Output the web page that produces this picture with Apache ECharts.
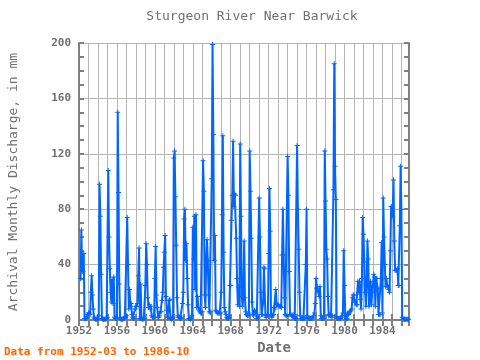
<!DOCTYPE html>
<html>
<head>
<meta charset="utf-8">
<script src="https://cdn.jsdelivr.net/npm/echarts@6/dist/echarts.min.js"></script>
<style>html,body{margin:0;padding:0;background:#fff;}#c{width:480px;height:360px;}</style>
</head>
<body>
<div id="c"></div>
<script>
// first month of record: 1952-03
var startYear = 1952;
var startMonth = 3;
// monthly discharge (mm), one line per year
var discharge = [
  30, 65, 35, 35, 48, 1, 1, 1, 2, 4,                 // 1952 (Mar-Dec)
  5, 5, 4, 20, 32, 18, 8, 2, 1, 0.5, 0.5, 0.5,       // 1953
  1, 3, 98, 75, 33, 1, 0.5, 0.5, 0.5, 0.5, 0.5, 1,   // 1954
  2, 108, 60, 37, 20, 13, 29, 12, 31, 2, 1, 1,       // 1955
  2, 150, 92, 26, 1, 0.5, 0.5, 0.5, 1, 1, 2, 2,      // 1956
  3, 74, 40, 8, 22, 10, 12, 4, 2, 1, 1, 8,           // 1957
  10, 10, 12, 32, 52, 1, 26, 1, 0.5, 0.5, 1, 1,      // 1958
  25, 55, 40, 16, 9, 11, 8, 10, 3, 2, 2, 2,          // 1959
  30, 53, 18, 9, 2, 2, 3, 6, 6, 14, 20, 38,          // 1960
  49, 61, 17, 7, 2, 2, 14, 15, 1, 0.5, 1, 2,         // 1961
  117, 122, 89, 54, 16, 3, 2, 2, 1, 1, 2, 12,        // 1962
  20, 73, 80, 43, 55, 30, 11, 1, 1, 0.5, 1, 3,       // 1963
  67, 44, 75, 22, 76, 9, 17, 9, 7, 6, 5, 5,          // 1964
  6, 115, 93, 18, 9, 44, 58, 43, 18, 6, 5, 6,        // 1965
  102, 199, 134, 43, 61, 7, 6, 5, 5, 5, 5, 5,        // 1966
  20, 76, 133, 49, 9, 6, 4, 2, 1, 1, 2, 25,          // 1967
  25, 72, 90, 129, 82, 91, 90, 59, 30, 11, 24, 10,   // 1968
  127, 75, 17, 10, 16, 57, 16, 6, 4, 3, 3, 5,        // 1969
  122, 93, 59, 13, 4, 3, 7, 6, 5, 1, 1, 2,           // 1970
  88, 60, 20, 4, 4, 13, 38, 37, 3, 2, 3, 4,          // 1971
  48, 95, 64, 3, 2, 3, 4, 9, 8, 22, 11, 11,          // 1972
  11, 10, 10, 10, 9, 47, 80, 47, 16, 4, 3, 3,        // 1973
  118, 90, 35, 4, 4, 3, 3, 4, 2, 1, 1, 1,            // 1974
  126, 80, 51, 20, 3, 1, 1, 1, 1, 1, 2, 40,          // 1975
  80, 3, 1, 1, 1, 1, 1, 1, 2, 3, 5, 12,              // 1976
  30, 23, 24, 20, 17, 24, 3, 1, 1, 1, 1, 122,        // 1977
  86, 51, 44, 17, 3, 4, 3, 3, 2, 3, 94, 185,         // 1978
  111, 87, 2, 1, 1, 1, 1, 1, 2, 3, 5, 50,            // 1979
  25, 3, 0.5, 1, 5, 4, 5, 6, 7, 8, 16, 18,           // 1980
  18, 13, 13, 11, 11, 28, 20, 28, 15, 8, 30, 74,     // 1981
  62, 42, 20, 10, 24, 57, 44, 10, 20, 28, 11, 20,    // 1982
  25, 33, 31, 10, 30, 30, 23, 4, 4, 4, 30, 56,       // 1983
  5, 88, 60, 40, 24, 30, 25, 24, 22, 20, 50, 82,     // 1984
  82, 75, 101, 57, 36, 36, 36, 37, 25, 25, 68, 111,  // 1985
  80, 2, 0.5, 0.5, 0.5, 0.5, 0.5, 0.5, 0.5, 0.5      // 1986 (Jan-Oct)
];
var xMin = 1952, xMax = 1986.8;
var yTicks = [0, 40, 80, 120, 160, 200];

var points = discharge.map(function (v, i) {
  var m = startMonth - 1 + i;
  return [startYear + m / 12, v];
});

var axisGray = '#808080';
var textGray = '#707070';
var font = '"DejaVu Sans Mono", monospace';

function xAxisCfg(pos, showLabel) {
  return {
    type: 'value', position: pos, min: xMin, max: xMax, interval: 1,
    axisLine: { show: true, lineStyle: { color: axisGray, width: 2 } },
    axisTick: { show: true, inside: true, length: 6, lineStyle: { color: axisGray, width: 2 } },
    axisLabel: {
      show: showLabel, color: textGray, fontFamily: font, fontSize: 11, fontWeight: 'bold', margin: 6,
      formatter: function (v) { return (Math.abs(v % 4) < 1e-9) ? String(v) : ''; }
    },
    splitLine: { show: pos === 'bottom', lineStyle: { color: '#b4b4b4', width: 1 } }
  };
}
function yAxisCfg(pos, showLabel) {
  return {
    type: 'value', position: pos, min: yTicks[0], max: yTicks[yTicks.length - 1], interval: 40,
    axisLine: { show: true, lineStyle: { color: axisGray, width: 2 } },
    axisTick: { show: true, inside: true, length: 5, lineStyle: { color: axisGray, width: 2 } },
    minorTick: { show: true, splitNumber: 4, length: 5, lineStyle: { color: axisGray, width: 2 } },
    axisLabel: { show: showLabel, color: textGray, fontFamily: font, fontSize: 11, fontWeight: 'bold', margin: 8,
      formatter: function (v) { return String(v); } },
    splitLine: { show: pos === 'left', lineStyle: { color: '#b4b4b4', width: 1 } }
  };
}

var chart = echarts.init(document.getElementById('c'), null, { renderer: 'canvas' });
chart.setOption({
  animation: false,
  backgroundColor: '#ffffff',
  grid: { left: 79, right: 71, top: 43, bottom: 40 },
  xAxis: [xAxisCfg('bottom', true), xAxisCfg('top', false)],
  yAxis: [yAxisCfg('left', true), yAxisCfg('right', false)],
  graphic: [
    { type: 'text', x: 252, y: 17, style: { text: 'Sturgeon River Near Barwick', fill: textGray, font: '13px ' + font, textAlign: 'center', textVerticalAlign: 'middle' } },
    { type: 'text', x: 274, y: 348, style: { text: 'Date', fill: textGray, font: 'bold 14px ' + font, textAlign: 'center', textVerticalAlign: 'middle' } },
    { type: 'text', x: 14, y: 182, rotation: Math.PI / 2, style: { text: 'Archival Monthly Discharge, in mm', fill: textGray, font: '13px ' + font, textAlign: 'center', textVerticalAlign: 'middle' } },
    { type: 'text', x: 4, y: 352, style: { text: 'Data from 1952-03 to 1986-10', fill: '#ff6600', font: 'bold 11px ' + font, textVerticalAlign: 'middle' } }
  ],
  series: [{
    type: 'line',
    data: points,
    xAxisIndex: 0, yAxisIndex: 0,
    showSymbol: true,
    symbol: 'path://M2,0H3V2H5V3H3V5H2V3H0V2H2Z',
    symbolSize: 5,
    lineStyle: { color: '#0066ff', width: 2 },
    itemStyle: { color: '#0066ff' },
    clip: true
  }]
});
</script>
</body>
</html>
